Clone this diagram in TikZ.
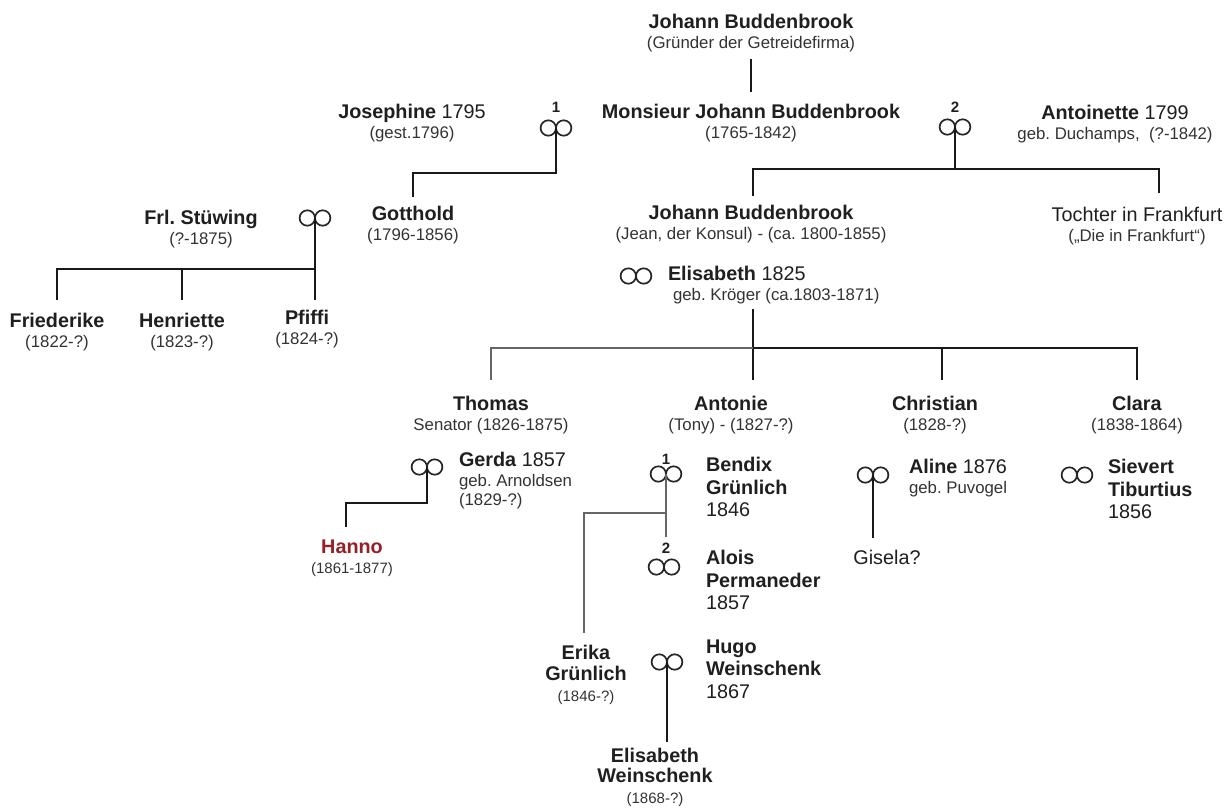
\documentclass[tikz,border=0pt]{standalone}
\usepackage{fontspec}
\setmainfont{Liberation Sans}
\definecolor{hannored}{RGB}{150,32,38}
% secondary lines (dates, maiden names)
\newcommand\smalltxt[1]{{\fontsize{16.8}{20}\selectfont\color{black!80}#1}}
\newcommand\smallertxt[1]{{\fontsize{15}{20}\selectfont\color{black!80}#1}}
\begin{document}
\frenchspacing
\begin{tikzpicture}[x=1pt,y=-1pt,
  every node/.style={inner sep=0pt, outer sep=0pt},
  person/.style={anchor=north, align=center, text=black!88, font=\fontsize{19.8}{20}\selectfont},
  personl/.style={person, anchor=north west, align=left},
  stack/.style={font=\fontsize{19.8}{22.5}\selectfont},
  ring/.style={minimum size=0pt},
  num/.style={font=\fontsize{15}{15}\selectfont\bfseries, text=black!88},
  kin/.style={draw=black!90, line width=1.7pt},
  kinpale/.style={draw=black!60, line width=1.7pt},
  ringline/.style={draw=black!85, line width=1.7pt},
]
\path[use as bounding box, fill=white] (0,0) rectangle (1231,807);

% --- people ---
\node[person] (jb0) at (751,14.6) {\textbf{Johann Buddenbrook}\\\smalltxt{(Gründer der Getreidefirma)}};
\node[person] (mjb) at (751,104.6) {\textbf{Monsieur Johann Buddenbrook}\\\smalltxt{(1765-1842)}};
\node[person] (jos) at (412,104.6) {\textbf{Josephine} 1795\\\smalltxt{(gest.1796)}};
\node[person] (ant) at (1115,105.6) {\textbf{Antoinette} 1799\\\smalltxt{geb. Duchamps,\ \ (?-1842)}};
\node[person] (got) at (413,206.6) {\textbf{Gotthold}\\\smalltxt{(1796-1856)}};
\node[person] (jean) at (751,205.6) {\textbf{Johann Buddenbrook}\\\smalltxt{(Jean, der Konsul) - (ca. 1800-1855)}};
\node[person] (toc) at (1137,207.6) {Tochter in Frankfurt\\\smalltxt{(„Die in Frankfurt“)}};
\node[personl] (eli) at (668,266.6) {\textbf{Elisabeth} 1825\\\hspace*{5pt}\smalltxt{geb. Kröger (ca.1803-1871)}};

\node[person] (stu) at (201,210.6) {\textbf{Frl. Stüwing}\\\smalltxt{(?-1875)}};
\node[person] (fri) at (57,313.6) {\textbf{Friederike}\\\smalltxt{(1822-?)}};
\node[person] (hen) at (182,313.6) {\textbf{Henriette}\\\smalltxt{(1823-?)}};
\node[person] (pfi) at (307,310.6) {\textbf{Pfiffi}\\\smalltxt{(1824-?)}};

\node[person] (tho) at (491,396.6) {\textbf{Thomas}\\\smalltxt{Senator (1826-1875)}};
\node[person] (ato) at (731,396.6) {\textbf{Antonie}\\\smalltxt{(Tony) - (1827-?)}};
\node[person] (chr) at (935,396.6) {\textbf{Christian}\\\smalltxt{(1828-?)}};
\node[person] (cla) at (1137,396.6) {\textbf{Clara}\\\smalltxt{(1838-1864)}};

\node[personl, font=\fontsize{19.8}{19.5}\selectfont] (ger) at (459,452.6) {\textbf{Gerda} 1857\\\smalltxt{geb. Arnoldsen}\\\smalltxt{(1829-?)}};
\node[person, text=hannored] (han) at (352,539.6) {\textbf{Hanno}\\\smallertxt{(1861-1877)}};
\node[personl, stack] (ben) at (706,457.6) {\textbf{Bendix}\\\textbf{Grünlich}\\1846};
\node[personl, stack] (alo) at (706,550.6) {\textbf{Alois}\\\textbf{Permaneder}\\1857};
\node[person, font=\fontsize{19.8}{21}\selectfont] (eri) at (586,645.6) {\textbf{Erika}\\\textbf{Grünlich}\\\smallertxt{(1846-?)}};
\node[personl, stack] (hug) at (706,639.6) {\textbf{Hugo}\\\textbf{Weinschenk}\\1867};
\node[person, font=\fontsize{19.8}{20.5}\selectfont] (ewe) at (655,748) {\textbf{Elisabeth}\\\textbf{Weinschenk}\\\smallertxt{(1868-?)}};
\node[personl] (aln) at (909,459.6) {\textbf{Aline} 1876\\\smalltxt{geb. Puvogel}};
\node[person] (gis) at (887,550.6) {Gisela?};
\node[personl, stack] (sie) at (1108,459.6) {\textbf{Sievert}\\\textbf{Tiburtius}\\1856};

% --- marriage numbers ---
\node[num] (n1) at (556,107) {1};
\node[num] (n2) at (955,107) {2};
\node[num] (n6) at (666,459) {1};
\node[num] (n7) at (666,548) {2};

% --- marriage rings ---
\node[ring] (r1) at (556,128) {};
\node[ring] (r2) at (955,127) {};
\node[ring] (r3) at (315,218) {};
\node[ring] (r4) at (636,276) {};
\node[ring] (r5) at (427,467) {};
\node[ring] (r6) at (666,474) {};
\node[ring] (r7) at (664,567) {};
\node[ring] (r8) at (873,475) {};
\node[ring] (r9) at (1077,475) {};
\node[ring] (r10) at (667,662) {};
\foreach \r in {r1,r2,r3,r4,r5,r6,r7,r8,r9,r10}
  \draw[ringline] ([xshift=-7.7pt]\r.center) circle[radius=7.7pt]
                  ([xshift=7.7pt]\r.center) circle[radius=7.7pt];

% --- descent lines ---
\draw[kin, shorten <=7pt, shorten >=12.5pt] (jb0.south) -- (mjb.north);

\coordinate (b1) at (556,173);
\draw[kin, shorten >=9.5pt] (r1.center) -- (b1) -| (got.north);

\coordinate (b2) at (955,169);
\draw[kin] (r2.center) -- (b2);
\coordinate (jdrop) at ([xshift=2pt]jean.north);
\coordinate (tdrop) at ([xshift=22pt]toc.north);
\draw[kin, shorten <=9.5pt, shorten >=14.5pt] (jdrop) |- (b2) -| (tdrop);

\coordinate (b3) at (315,269);
\draw[kin, shorten >=10.5pt] (r3.center) -- (r3.center |- pfi.north);
\draw[kin, shorten <=13.5pt] (fri.north) |- (b3);
\draw[kin, shorten <=13.5pt] (hen.north) -- (hen.north |- b3);

\coordinate (b4) at (753,348);
\draw[kin, shorten <=5pt, shorten >=16.5pt] (b4 |- eli.south) -- (b4 |- ato.north);
\draw[kinpale, shorten <=16.5pt] (tho.north) |- (b4);
\draw[kin, shorten >=16.5pt] (b4) -| (cla.north);
\coordinate (cdrop) at ([xshift=7pt]chr.north);
\draw[kin, shorten >=16.5pt] (cdrop |- b4) -- (cdrop);

\coordinate (b5) at (427,503);
\coordinate (hdrop) at ([xshift=-6pt]han.north);
\draw[kin, shorten >=12.5pt] (r5.center) -- (b5) -| (hdrop);

\coordinate (b6) at (666,513);
\coordinate (edrop) at ([xshift=-2pt]eri.north);
\draw[kinpale, shorten >=6pt] (r6.center) -- (n7.north);
\draw[kinpale, shorten >=12.5pt] (b6) -| (edrop);

\draw[kin, shorten >=12.5pt] (r8.center) -- (r8.center |- gis.north);
\draw[kin, shorten >=6pt] (r10.center) -- (r10.center |- ewe.north);
\end{tikzpicture}
\end{document}
